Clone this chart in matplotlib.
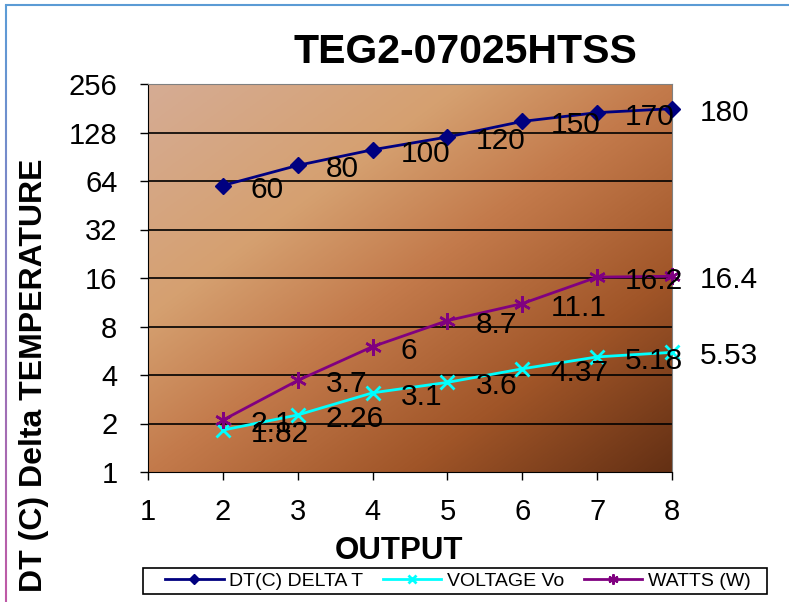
import numpy as np
import matplotlib.pyplot as plt
from matplotlib.colors import LinearSegmentedColormap
from matplotlib.collections import LineCollection
from matplotlib.patches import Rectangle

x = [2, 3, 4, 5, 6, 7, 8]
delta_t = [60, 80, 100, 120, 150, 170, 180]
voltage = [1.82, 2.26, 3.1, 3.6, 4.37, 5.18, 5.53]
watts = [2.1, 3.7, 6, 8.7, 11.1, 16.2, 16.4]
y_ticks = [1, 2, 4, 8, 16, 32, 64, 128, 256]

plt.rcParams['font.family'] = ['Liberation Sans', 'DejaVu Sans']

W, H = 789, 602
fig = plt.figure(figsize=(W / 100, H / 100), dpi=100)
ax = fig.add_axes([148 / W, 130 / H, 524 / W, 388 / H])

# diagonal gradient background (top-left light, bottom-right dark)
u, v = np.meshgrid(np.linspace(0, 1, 300), np.linspace(1, 0, 300))
t = (u + (1 - v)) / 2
cmap = LinearSegmentedColormap.from_list('bg', [
    (0.0, (214/255, 172/255, 148/255)),
    (0.3, (213/255, 160/255, 112/255)),
    (0.5, (195/255, 122/255, 75/255)),
    (0.75, (160/255, 85/255, 40/255)),
    (1.0, (100/255, 48/255, 20/255))])
ax.imshow(t, cmap=cmap, extent=[0, 1, 0, 1], transform=ax.transAxes,
          aspect='auto', zorder=0, interpolation='bilinear')

ax.set_yscale('log', base=2)
ax.set_xlim(1, 8)
ax.set_ylim(1, 256)
ax.set_yticks(y_ticks)
ax.set_yticklabels([str(v) for v in y_ticks])
ax.set_xticks(range(1, 9))
ax.minorticks_off()
ax.tick_params(axis='both', labelsize=21, length=6, width=1, color='black')
ax.tick_params(axis='y', pad=16)
ax.tick_params(axis='x', pad=13)
for yt in y_ticks[1:]:
    ax.axhline(yt, color='black', lw=1.2, zorder=1)

for s in ['top', 'right']:
    ax.spines[s].set_color('#808080')
for s in ['left', 'bottom']:
    ax.spines[s].set_color('black')

ax.plot(x, delta_t, color='#000080', lw=2, marker='D', ms=8,
        label='DT(C) DELTA T', zorder=3, clip_on=False)
ax.plot(x, voltage, color='#00FFFF', lw=2, marker='x', ms=10, mew=2,
        label='VOLTAGE Vo', zorder=3, clip_on=False)
ax.plot(x, watts, color='#800080', lw=2, marker=(6, 2, 0), ms=12, mew=1.8,
        label='WATTS (W)', zorder=3, clip_on=False)

for series in [delta_t, voltage, watts]:
    for xi, yi in zip(x, series):
        ax.annotate(str(yi), (xi, yi), xytext=(28, -4), textcoords='offset pixels',
                    ha='left', va='center', fontsize=21.5, zorder=4,
                    annotation_clip=False)

fig.text(465 / W, 1 - 52 / H, 'TEG2-07025HTSS', ha='center', va='center',
         fontsize=29.5, fontweight='bold')
fig.text(399 / W, 1 - 551 / H, 'OUTPUT', ha='center', va='center',
         fontsize=22.5, fontweight='bold')
fig.text(34 / W, 1 - 375 / H, 'DT (C) Delta TEMPERATURE', ha='center', va='center',
         rotation=90, fontsize=23, fontweight='bold')

leg = fig.legend(loc='center', bbox_to_anchor=(458 / W, 1 - 581 / H), ncol=3,
                 frameon=False, prop={'size': 14}, handlelength=3.0,
                 handletextpad=0.3, columnspacing=1.0, markerscale=0.6)
fig.add_artist(Rectangle((143 / W, 1 - 594 / H), 624 / W, 26 / H,
                         transform=fig.transFigure, fill=False,
                         edgecolor='black', lw=1.2))

# outer frame lines
fig.add_artist(plt.Line2D([6 / W, 1], [1 - 5 / H, 1 - 5 / H], color='#5B9BD5', lw=1.5))
ys = np.linspace(1 - 5 / H, 0, 60)
segs = [[(6 / W, ys[i]), (6 / W, ys[i + 1])] for i in range(len(ys) - 1)]
cols = [np.array([0.36, 0.61, 0.84]) * (1 - k) + np.array([0.75, 0.35, 0.65]) * k
        for k in np.linspace(0, 1, len(segs))]
fig.add_artist(LineCollection(segs, colors=cols, lw=1.5, transform=fig.transFigure))

fig.savefig('out.png', dpi=100)
